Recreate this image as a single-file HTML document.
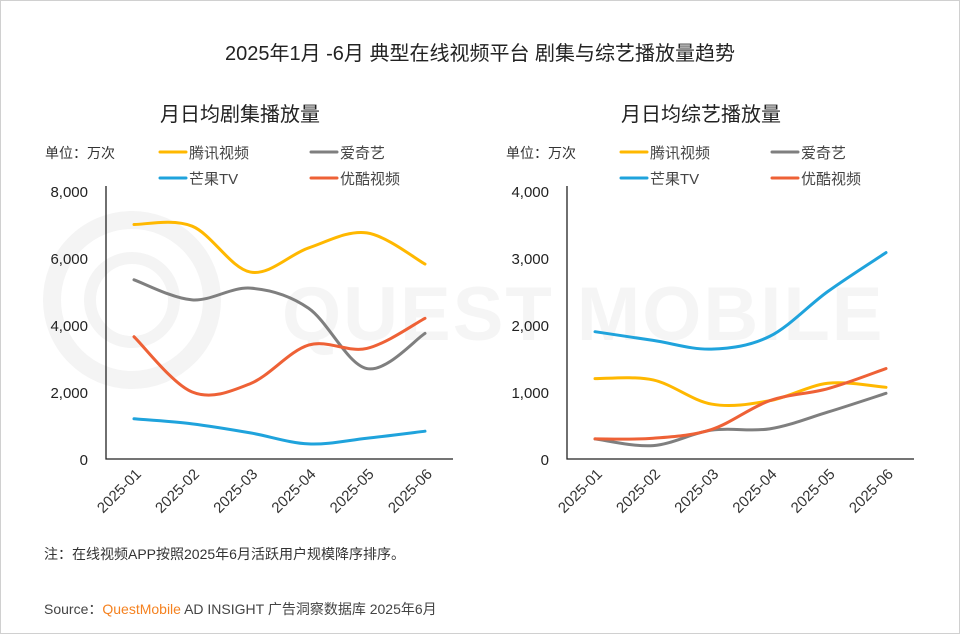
<!DOCTYPE html>
<html><head><meta charset="utf-8"><style>
body{margin:0;width:960px;height:634px;overflow:hidden;background:#fff;font-family:"Liberation Sans","Noto Sans CJK SC",sans-serif}
svg{position:absolute;left:0;top:0}
</style></head><body>
<svg width="960" height="634">
<rect x="0.5" y="0.5" width="959" height="633" fill="#fff" stroke="#d0d0d0"/>
<g fill="none" stroke="#f4f4f4">
<circle cx="132" cy="300" r="80" stroke-width="18"/>
<circle cx="132" cy="300" r="42" stroke-width="12"/>
<text x="282" y="340" font-size="76" font-weight="bold" fill="#f5f5f5" stroke="none" font-family="Liberation Sans, sans-serif" letter-spacing="2">QUEST MOBILE</text>
</g>
<text x="480" y="60" text-anchor="middle" font-size="20" fill="#222">2025年1月 -6月 典型在线视频平台 剧集与综艺播放量趋势</text>
<g id="c1"></g><g id="c2"></g>
<text x="44" y="559" font-size="14" fill="#333">注：在线视频APP按照2025年6月活跃用户规模降序排序。</text>
<text x="44" y="614" font-size="14" fill="#444">Source：<tspan fill="#f58220">QuestMobile</tspan> AD INSIGHT 广告洞察数据库 2025年6月</text>
</svg>
<script>
const categories=["2025-01","2025-02","2025-03","2025-04","2025-05","2025-06"];
const seriesNames=["腾讯视频","爱奇艺","芒果TV","优酷视频"];
const seriesColors=["#FFB800","#7F7F7F","#1FA3DC","#EE6136"];
const dramaTencent=[7000,6950,5580,6300,6750,5820];
const dramaIqiyi=[5350,4750,5100,4500,2700,3750];
const dramaMango=[1200,1050,780,450,620,830];
const dramaYouku=[3650,2000,2250,3400,3300,4200];
const varTencent=[1200,1180,820,870,1130,1070];
const varIqiyi=[300,200,430,450,700,980];
const varMango=[1900,1770,1640,1830,2500,3080];
const varYouku=[300,310,440,870,1050,1350];
const dramaTicks=[0,2000,4000,6000,8000];
const varTicks=[0,1000,2000,3000,4000];
const NS="http://www.w3.org/2000/svg";
function mk(p,t,a,txt){const e=document.createElementNS(NS,t);for(const k in a)e.setAttribute(k,a[k]);if(txt!=null)e.textContent=txt;p.appendChild(e);return e;}
function draw(gid,ox,title,ticks,series){
 const g=document.getElementById(gid);
 const axX=ox+106,x0=ox+134,x1=ox+425,yb=459,yt=191,ymax=ticks[ticks.length-1];
 const X=i=>x0+(x1-x0)*i/(categories.length-1), Y=v=>yb-(yb-yt)*v/ymax;
 let t=mk(g,'text',{x:ox+240,y:121,'text-anchor':'middle','font-size':20,fill:'#222'},title);
 
 
 t=mk(g,'text',{x:ox+45,y:158,'font-size':14,fill:'#333'},'单位：万次');
 
 
 const lp=[[160,152],[311,152],[160,178],[311,178]];
 seriesNames.forEach((n,i)=>{
  const lg=mk(g,'g',{});
  
  
  mk(lg,'line',{x1:ox+lp[i][0],x2:ox+lp[i][0]+26,y1:lp[i][1],y2:lp[i][1],stroke:seriesColors[i],'stroke-width':3,'stroke-linecap':'round'});
  mk(lg,'text',{x:ox+lp[i][0]+29,y:lp[i][1]+6,'font-size':15,fill:'#444'},n);
 });
 ticks.forEach(v=>{const e=mk(g,'text',{x:axX-18,y:Y(v)+6,'text-anchor':'end','font-size':15,fill:'#222'},v.toLocaleString('en-US'));
  
  });
 let a=mk(g,'path',{d:`M${axX},${yt-5}V${yb}H${ox+453}`,fill:'none',stroke:'#222','stroke-width':1.3});
 
 
 categories.forEach((c,i)=>{const e=mk(g,'text',{transform:`translate(${X(i)+8},${yb+16}) rotate(-45)`,'text-anchor':'end','font-size':15,fill:'#333'},c);
  
  });
 series.forEach((vals,si)=>{
  const p=vals.map((v,i)=>[X(i),Y(v)]);
  let d=`M${p[0][0]},${p[0][1]}`;
  for(let i=0;i<p.length-1;i++){const a0=p[Math.max(i-1,0)],a1=p[i],a2=p[i+1],a3=p[Math.min(i+2,p.length-1)];
   d+=`C${a1[0]+(a2[0]-a0[0])/6},${a1[1]+(a2[1]-a0[1])/6} ${a2[0]-(a3[0]-a1[0])/6},${a2[1]-(a3[1]-a1[1])/6} ${a2[0]},${a2[1]}`;}
  const e=mk(g,'path',{d,fill:'none',stroke:seriesColors[si],'stroke-width':3,'stroke-linecap':'round'});
  
  
 });
}
draw('c1',0,'月日均剧集播放量',dramaTicks,[dramaTencent,dramaIqiyi,dramaMango,dramaYouku]);
draw('c2',461,'月日均综艺播放量',varTicks,[varTencent,varIqiyi,varMango,varYouku]);
</script>
</body></html>
